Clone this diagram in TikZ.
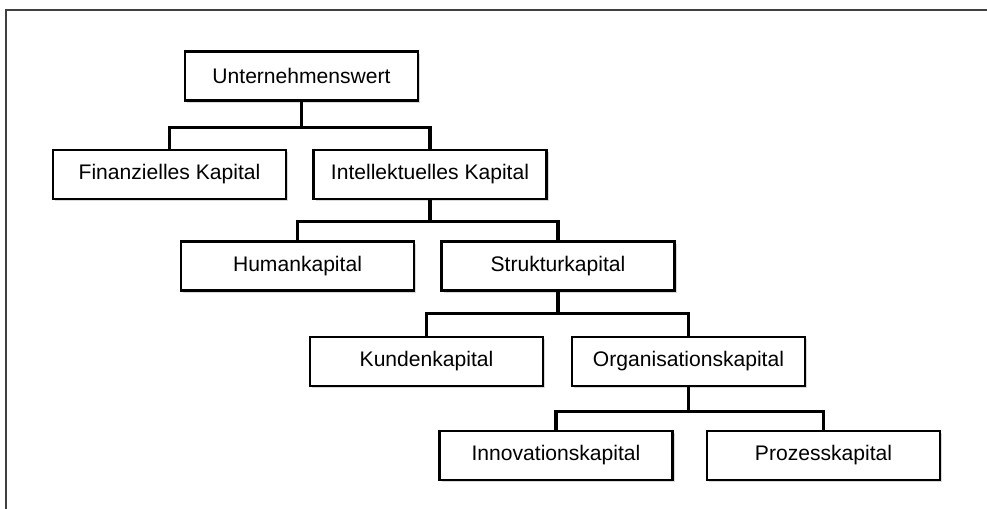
\documentclass[tikz,border=0pt]{standalone}
\usepackage{fontspec}
\setmainfont{Liberation Sans}
\usetikzlibrary{shadows}

\begin{document}
\begin{tikzpicture}[%
    x=0.02cm, y=-0.02cm,
    kapital/.style={draw, line width=1.5pt, fill=white,
        minimum width=4.66cm, minimum height=0.98cm, inner sep=0pt,
        font=\fontsize{12}{14}\selectfont,
        drop shadow={shadow xshift=1.2pt, shadow yshift=-1.4pt, fill=black!25, opacity=.6}},
    ast/.style={line width=1.9pt}
]
    \useasboundingbox (0,0) rectangle (987,509);
    \draw[line width=0.9pt, black!75] (987,10) -- (6,10) -- (6,509);

    \node[kapital] (wert)   at (301.5,76)   {Unternehmenswert};
    \node[kapital] (fin)    at (169.5,174.5) {Finanzielles Kapital};
    \node[kapital] (intel)  at (430,174.5)  {Intellektuelles Kapital};
    \node[kapital] (human)  at (297.5,266)  {Humankapital};
    \node[kapital] (struk)  at (558,266)    {Strukturkapital};
    \node[kapital] (kunden) at (426.5,361.5) {Kundenkapital};
    \node[kapital] (organ)  at (688.5,361.5) {Organisationskapital};
    \node[kapital] (innov)  at (556,455.5)  {Innovationskapital};
    \node[kapital] (proz)   at (823.5,455.5) {Prozesskapital};

    \draw[ast] (wert.south)  -- ++(0,26) -| (fin.north)
               (wert.south)  -- ++(0,26) -| (intel.north);
    \draw[ast] (intel.south) -- ++(0,21) -| (human.north)
               (intel.south) -- ++(0,21) -| (struk.north);
    \draw[ast] (struk.south) -- ++(0,22) -| (kunden.north)
               (struk.south) -- ++(0,22) -| (organ.north);
    \draw[ast] (organ.south) -- ++(0,24) -| (innov.north)
               (organ.south) -- ++(0,24) -| (proz.north);
\end{tikzpicture}
\end{document}
